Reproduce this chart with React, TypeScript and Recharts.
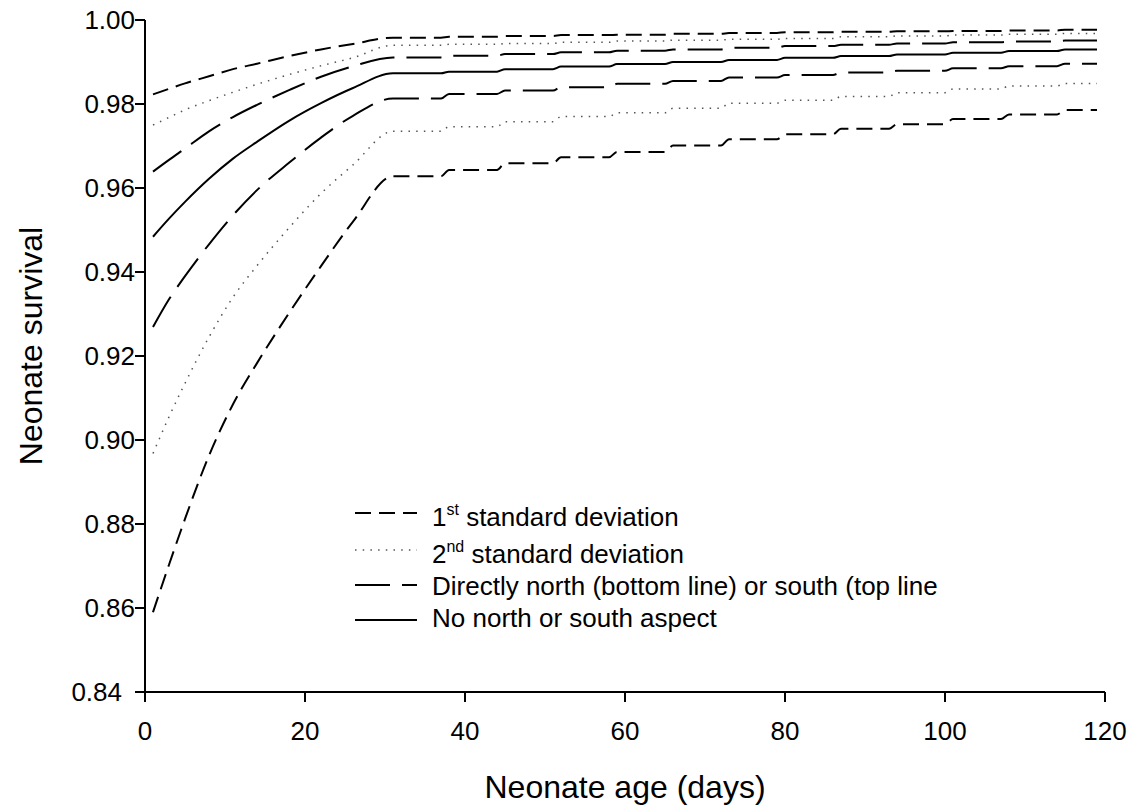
import { LineChart, Line, XAxis, YAxis, Legend, Label } from "recharts";

const FONT = "Arial, 'Liberation Sans', Helvetica, sans-serif";

// days where the smooth early part was read, then weekly step days
const curveDays = [1, 3, 5, 8, 11, 14, 18, 22, 26, 31];
const stepDays = [37, 44, 51, 58, 65, 72, 79, 86, 93, 100, 107, 114];
const lastDay = 119;

const xTicks = [0, 20, 40, 60, 80, 100, 120];
const yTicks = [0.84, 0.86, 0.88, 0.9, 0.92, 0.94, 0.96, 0.98, 1.0];

// 1st standard deviation (short dash), upper and lower
const sd1UpperCurve = [0.9823, 0.9836, 0.9849, 0.9866, 0.9883, 0.9896, 0.9914, 0.993, 0.9943, 0.9958];
const sd1UpperSteps = [0.9958, 0.996, 0.9962, 0.9964, 0.9965, 0.9967, 0.9969, 0.9971, 0.9972, 0.9973, 0.9974, 0.9975, 0.9977];
const sd1LowerCurve = [0.859, 0.8703, 0.8812, 0.8963, 0.9085, 0.9183, 0.9302, 0.9414, 0.952, 0.9628];
const sd1LowerSteps = [0.9628, 0.9643, 0.9659, 0.9673, 0.9686, 0.9701, 0.9716, 0.9728, 0.9741, 0.9752, 0.9764, 0.9775, 0.9786];

// 2nd standard deviation (dotted)
const sd2UpperCurve = [0.975, 0.9768, 0.9786, 0.9808, 0.9828, 0.9847, 0.987, 0.9891, 0.991, 0.994];
const sd2UpperSteps = [0.994, 0.9942, 0.9944, 0.9947, 0.995, 0.9952, 0.9954, 0.9956, 0.996, 0.9962, 0.9964, 0.9966, 0.9968];
const sd2LowerCurve = [0.8968, 0.9055, 0.9135, 0.9245, 0.934, 0.9415, 0.9505, 0.9587, 0.9655, 0.9735];
const sd2LowerSteps = [0.9735, 0.9746, 0.9758, 0.977, 0.9779, 0.979, 0.9802, 0.9809, 0.9818, 0.9827, 0.9836, 0.9843, 0.9849];

// directly south (top) / north (bottom), long dash
const southCurve = [0.9639, 0.9667, 0.9694, 0.9735, 0.9769, 0.9798, 0.9833, 0.9865, 0.989, 0.9911];
const southSteps = [0.9911, 0.9915, 0.9919, 0.9923, 0.9927, 0.993, 0.9934, 0.9938, 0.9941, 0.9944, 0.9947, 0.9949, 0.9951];
const northCurve = [0.9269, 0.9335, 0.939, 0.9466, 0.9535, 0.9595, 0.966, 0.972, 0.9772, 0.9813];
const northSteps = [0.9813, 0.9824, 0.9832, 0.984, 0.9848, 0.9855, 0.9863, 0.9869, 0.9875, 0.9879, 0.9885, 0.989, 0.9896];

// no north or south aspect, solid
const flatCurve = [0.9484, 0.9527, 0.9567, 0.9622, 0.967, 0.971, 0.976, 0.9802, 0.9838, 0.9873];
const flatSteps = [0.9873, 0.9877, 0.9883, 0.9889, 0.9895, 0.99, 0.9905, 0.991, 0.9914, 0.9918, 0.9922, 0.9926, 0.993];

const legendLabels = [
  { main: "1", sup: "st", rest: " standard deviation", dash: "16 8", color: "#000", width: 2 },
  { main: "2", sup: "nd", rest: " standard deviation", dash: "1.5 6.2", color: "#555", width: 1.5 },
  { main: "Directly north (bottom line) or south (top line", sup: "", rest: "", dash: "35 12", color: "#000", width: 2 },
  { main: "No north or south aspect", sup: "", rest: "", dash: "", color: "#000", width: 2 },
];

const series: Record<string, [number[], number[]]> = {
  sd1Upper: [sd1UpperCurve, sd1UpperSteps],
  sd1Lower: [sd1LowerCurve, sd1LowerSteps],
  sd2Upper: [sd2UpperCurve, sd2UpperSteps],
  sd2Lower: [sd2LowerCurve, sd2LowerSteps],
  south: [southCurve, southSteps],
  north: [northCurve, northSteps],
  flat: [flatCurve, flatSteps],
};

function buildRows() {
  const rows: Record<string, number>[] = [];
  const keys = Object.keys(series);
  curveDays.forEach((day, i) => {
    const row: Record<string, number> = { day };
    keys.forEach((k) => (row[k] = series[k][0][i]));
    rows.push(row);
  });
  stepDays.forEach((day, i) => {
    const before: Record<string, number> = { day };
    const after: Record<string, number> = { day: day + 1 };
    keys.forEach((k) => {
      before[k] = series[k][1][i];
      after[k] = series[k][1][i + 1];
    });
    rows.push(before, after);
  });
  const last: Record<string, number> = { day: lastDay };
  keys.forEach((k) => (last[k] = series[k][1][stepDays.length]));
  rows.push(last);
  return rows;
}

const data = buildRows();

const YTick = (props: any) => {
  const { x, y, payload } = props;
  const shift = payload.value === 0.84 ? 13 : 0;
  return (
    <text x={x - shift} y={y} dy={9} textAnchor="end" fontSize={26} fontFamily={FONT} fill="#000">
      {payload.value.toFixed(2)}
    </text>
  );
};

const XTick = (props: any) => {
  const { x, y, payload } = props;
  return (
    <text x={x} y={y} dy={38} textAnchor="middle" fontSize={26} fontFamily={FONT} fill="#000">
      {payload.value}
    </text>
  );
};

const LegendBox = () => (
  <svg width={640} height={150} style={{ overflow: "visible" }}>
    {legendLabels.map((item, i) => {
      const lineY = [23, 60, 95, 130][i];
      const baseY = [36, 73, 105, 137][i];
      return (
        <g key={i}>
          <line x1={15} x2={77} y1={lineY} y2={lineY} stroke={item.color} strokeWidth={item.width} strokeDasharray={item.dash || undefined} />
          <text x={92} y={baseY} fontSize={26} fontFamily={FONT} fill="#000">
            {item.main}
            {item.sup && (
              <tspan dy={-11} fontSize={16}>
                {item.sup}
              </tspan>
            )}
            {item.rest && (
              <tspan dy={11} fontSize={26}>
                {item.rest}
              </tspan>
            )}
          </text>
        </g>
      );
    })}
  </svg>
);

export default function App() {
  const axisStroke = { stroke: "#000", strokeWidth: 2 };
  return (
    <div style={{ position: "absolute", left: 0, top: 0, background: "#fff" }}>
      <LineChart width={1134} height={809} data={data} margin={{ top: 20, right: 29, left: 0, bottom: 0 }}>
        <XAxis
          dataKey="day"
          type="number"
          domain={[0, 120]}
          ticks={xTicks}
          interval={0}
          height={117}
          tickSize={10}
          tickMargin={0}
          axisLine={axisStroke}
          tickLine={axisStroke}
          tick={XTick}
        >
          <Label
            content={(p: any) => {
              const vb = p.viewBox;
              return (
                <text x={vb.x + vb.width / 2} y={vb.y + 106} textAnchor="middle" fontSize={32} fontFamily={FONT} fill="#000">
                  Neonate age (days)
                </text>
              );
            }}
          />
        </XAxis>
        <YAxis
          type="number"
          domain={[0.84, 1]}
          ticks={yTicks}
          interval={0}
          width={145}
          tickSize={10}
          tickMargin={0}
          axisLine={axisStroke}
          tickLine={axisStroke}
          tick={YTick}
        >
          <Label
            content={() => (
              <text x={42} y={346} transform="rotate(-90, 42, 346)" textAnchor="middle" fontSize={32} fontFamily={FONT} fill="#000">
                Neonate survival
              </text>
            )}
          />
        </YAxis>
        <Legend
          layout="horizontal"
          verticalAlign="middle"
          align="center"
          wrapperStyle={{ left: 340, top: 490, width: 640, height: 150 }}
          content={LegendBox}
        />
        <Line dataKey="sd1Upper" type="monotone" stroke="#000" strokeWidth={2} strokeDasharray="16 8" dot={false} isAnimationActive={false} />
        <Line dataKey="sd1Lower" type="monotone" stroke="#000" strokeWidth={2} strokeDasharray="16 8" dot={false} isAnimationActive={false} />
        <Line dataKey="sd2Upper" type="monotone" stroke="#555" strokeWidth={1.5} strokeDasharray="1.5 6.2" dot={false} isAnimationActive={false} />
        <Line dataKey="sd2Lower" type="monotone" stroke="#555" strokeWidth={1.5} strokeDasharray="1.5 6.2" dot={false} isAnimationActive={false} />
        <Line dataKey="south" type="monotone" stroke="#000" strokeWidth={2} strokeDasharray="35 12" dot={false} isAnimationActive={false} />
        <Line dataKey="north" type="monotone" stroke="#000" strokeWidth={2} strokeDasharray="35 12" dot={false} isAnimationActive={false} />
        <Line dataKey="flat" type="monotone" stroke="#000" strokeWidth={2} dot={false} isAnimationActive={false} />
      </LineChart>
    </div>
  );
}
